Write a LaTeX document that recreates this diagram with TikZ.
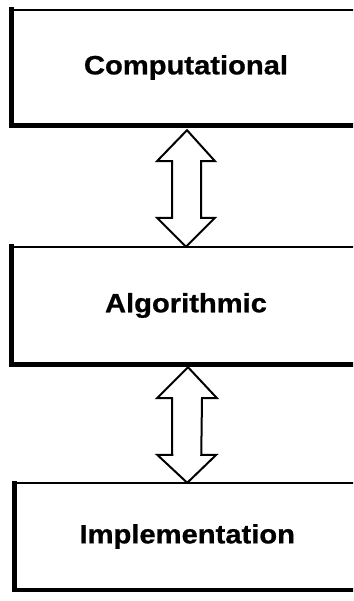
\documentclass[tikz,border=0pt]{standalone}
\usepackage{fontspec}
\newfontfamily\labfont{Liberation Sans}[FakeStretch=1.1,FakeBold=0.8]
\usetikzlibrary{calc}
\tikzset{
  levelbox/.style={rectangle, draw=none, inner sep=0pt, minimum width=348pt,
    font=\labfont\bfseries\fontsize{26.5}{30}\selectfont},
  thinedge/.style={line width=1.5pt},
  thickedge/.style={line width=5pt, line cap=rect},
  dblarrow/.style={line width=2pt, fill=white, line join=miter}
}
\begin{document}
\begin{tikzpicture}[x=1pt,y=-1pt]
\useasboundingbox (0,0) rectangle (353,601);
\clip (0,0) rectangle (353,601);
\node[levelbox, minimum height=115pt] (comp) at (186,67.5) {Computational};
\node[levelbox, minimum height=117pt] (algo) at (186,305.5) {Algorithmic};
\node[levelbox, minimum height=107pt, minimum width=345.5pt] (impl) at (187.25,536.5) {Implementation};
% box edges
\foreach \b in {comp,algo} {
  \draw[thinedge] (\b.north west) -- (\b.north east);
  \draw[thickedge] (\b.north west) -- (\b.south west) -- (\b.south east);
}
\draw[thinedge] (impl.north west) -- (impl.north east);
\draw[thickedge, line width=4.5pt] (impl.north west) -- (impl.south west) -- (impl.south east);
% double arrows
\draw[dblarrow]
  ($(comp.south)+(1,5)$) -- ($(comp.south)+(-29,36)$) -- ($(comp.south)+(-14,36)$)
  -- ($(algo.north)+(-14,-29)$) -- ($(algo.north)+(-29,-29)$) -- (algo.north)
  -- ($(algo.north)+(29,-29)$) -- ($(algo.north)+(15,-29)$)
  -- ($(comp.south)+(15,36)$) -- ($(comp.south)+(29,36)$) -- cycle;
\draw[dblarrow]
  ($(algo.south)+(2,3)$) -- ($(algo.south)+(-29,34)$) -- ($(algo.south)+(-14,34)$)
  -- ($(impl.north)+(-15,-28)$) -- ($(impl.north)+(-30,-28)$) -- (impl.north)
  -- ($(impl.north)+(29,-28)$) -- ($(impl.north)+(14,-28)$)
  -- ($(algo.south)+(16,34)$) -- ($(algo.south)+(31,34)$) -- cycle;
\end{tikzpicture}
\end{document}
